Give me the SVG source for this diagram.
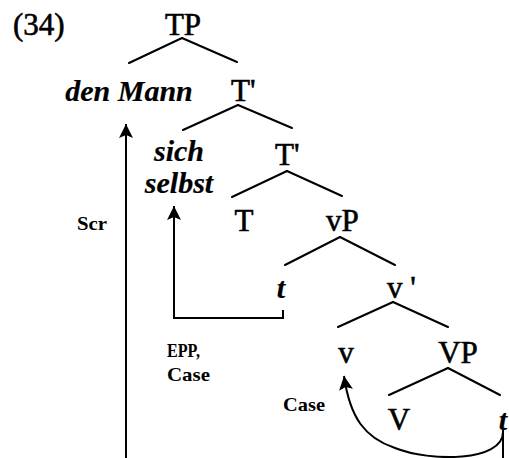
<svg xmlns="http://www.w3.org/2000/svg" width="509" height="458" viewBox="0 0 509 458">
<style>
.lbl{font-family:"Liberation Serif","Times New Roman",serif;font-size:31px;fill:#000;stroke:#000;stroke-width:0.6}
.it{font-style:italic;font-weight:bold;font-size:30px;stroke-width:0.2}
.sm{font-family:"Liberation Serif","Times New Roman",serif;font-weight:bold;font-size:19px;fill:#000}
.br{stroke:#000;stroke-width:2;fill:none;stroke-linecap:round}
.mv{stroke:#000;stroke-width:2;fill:none}
</style>
<defs>
<marker id="ah" markerUnits="userSpaceOnUse" markerWidth="16" markerHeight="16" viewBox="-1 -8 16 16" refX="14" refY="0" orient="auto">
<path d="M0,-7 L14,0 L0,7 L3,0 z" fill="#000"/>
</marker>
</defs>
<rect width="509" height="458" fill="#fff"/>
<text class="lbl" x="13" y="35">(34)</text>
<g id="connectors">
<line class="br" x1="182" y1="38" x2="129" y2="63"/>
<line class="br" x1="182" y1="38" x2="237" y2="62"/>
<line class="br" x1="238" y1="105" x2="183" y2="130"/>
<line class="br" x1="238" y1="105" x2="292" y2="128"/>
<line class="br" x1="287" y1="171" x2="232" y2="197"/>
<line class="br" x1="287" y1="171" x2="342" y2="196"/>
<line class="br" x1="340" y1="237" x2="285" y2="265"/>
<line class="br" x1="340" y1="237" x2="395" y2="265"/>
<line class="br" x1="393" y1="302" x2="338" y2="327"/>
<line class="br" x1="393" y1="302" x2="448" y2="327"/>
<line class="br" x1="448" y1="368" x2="389" y2="395"/>
<line class="br" x1="448" y1="368" x2="500" y2="395"/>
<path class="mv" d="M126,458 L126,124" marker-end="url(#ah)"/>
<path class="mv" d="M283,310 L283,318 L174,318 L174,206" marker-end="url(#ah)"/>
<line class="mv" x1="503" y1="430" x2="503" y2="458"/>
<path class="mv" d="M503,432 C503,462 430,462 395,448 C365,438 350,418 344,376" marker-end="url(#ah)"/>
</g>
<g id="n-TP"><text class="lbl" x="183" y="35" text-anchor="middle">TP</text></g>
<g id="n-denMann"><text class="lbl it" x="129" y="101" text-anchor="middle">den Mann</text></g>
<g id="n-Tbar1"><text class="lbl" x="231" y="101">T'</text></g>
<g id="n-sichselbst"><text class="lbl it" x="179" y="161" text-anchor="middle">sich</text><text class="lbl it" x="179" y="193" text-anchor="middle">selbst</text></g>
<g id="n-Tbar2"><text class="lbl" x="275" y="165">T'</text></g>
<g id="n-T"><text class="lbl" x="244" y="231" text-anchor="middle">T</text></g>
<g id="n-vP"><text class="lbl" x="326" y="231">vP</text></g>
<g id="n-t1"><text class="lbl it" x="281" y="298" text-anchor="middle">t</text></g>
<g id="n-vbar"><text class="lbl" x="387" y="298">v '</text></g>
<g id="n-v"><text class="lbl" x="346" y="363" text-anchor="middle">v</text></g>
<g id="n-VP"><text class="lbl" x="458" y="363" text-anchor="middle">VP</text></g>
<g id="n-V"><text class="lbl" x="399" y="430" text-anchor="middle">V</text></g>
<g id="n-t2"><text class="lbl it" x="503" y="430" text-anchor="middle">t</text></g>
<g id="labels">
<text class="sm" x="77" y="230" textLength="30" lengthAdjust="spacingAndGlyphs">Scr</text>
<text class="sm" x="167" y="357" textLength="33" lengthAdjust="spacingAndGlyphs">EPP,</text>
<text class="sm" x="167" y="381" textLength="43" lengthAdjust="spacingAndGlyphs">Case</text>
<text class="sm" x="283" y="411" textLength="42" lengthAdjust="spacingAndGlyphs">Case</text>
</g>
</svg>
